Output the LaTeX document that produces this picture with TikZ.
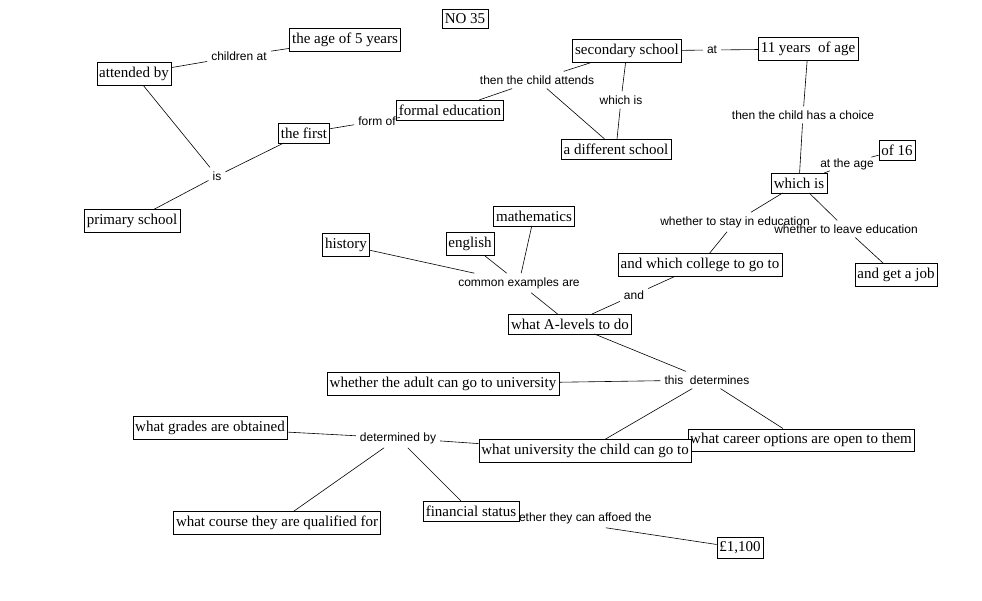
\documentclass[tikz,border=0pt]{standalone}
\usepackage{fontspec}
\setmainfont{Liberation Serif}
\newfontfamily\lblfont{Liberation Sans}
\usetikzlibrary{positioning}

\tikzset{
  box/.style={draw, fill=white, inner xsep=2.5pt, inner ysep=4.5pt, font=\fontsize{15}{17}\selectfont},
  lbl/.style={inner sep=4pt, font=\lblfont\fontsize{12}{14}\selectfont},
  link/.style={draw, line width=0.6pt}
}

\begin{document}
\begin{tikzpicture}[x=1pt, y=-1pt]
    \useasboundingbox (0,0) rectangle (982,601);

    %define the concepts
    \node[box] (title) at (465,19) {NO 35};
    \node[box] (ageFive) at (345,40) {the age of 5 years};
    \node[box] (attendedBy) at (134,74) {attended by};
    \node[box] (primary) at (132,221) {primary school};
    \node[box] (theFirst) at (304,133) {the first};
    \node[box] (formalEd) at (450,110) {formal education};
    \node[box] (secondary) at (627,51) {secondary school};
    \node[box] (differentSchool) at (616,149) {a different school};
    \node[box] (elevenYears) at (808,49) {11 years~ of age};
    \node[box] (ofSixteen) at (897,150) {of 16};
    \node[box] (whichIs) at (799,183) {which is};
    \node[box] (whichCollege) at (700,265) {and which college to go to};
    \node[box] (getJob) at (896,275) {and get a job};
    \node[box] (maths) at (534,216) {mathematics};
    \node[box] (english) at (470,244) {english};
    \node[box] (history) at (346,245) {history};
    \node[box] (aLevels) at (570,324) {what A-levels to do};
    \node[box] (adultUni) at (443,384) {whether the adult can go to university};
    \node[box] (careers) at (801,440) {what career options are open to them};
    \node[box] (childUni) at (585,451) {what university the child can go to};
    \node[box] (grades) at (210,428) {what grades are obtained};
    \node[box] (course) at (277,523) {what course they are qualified for};
    \node[lbl] (affordLbl) at (541,518) {which means whether they can affoed the};
    \node[box] (financial) at (471,511) {financial status};
    \node[box] (cost) at (740,548) {£1,100};

    %define the linking phrases
    \node[lbl] (childrenAt) at (239,56) {children at};
    \node[lbl] (isLbl) at (217,176) {is};
    \node[lbl] (formOf) at (377,121) {form of};
    \node[lbl] (childAttends) at (537,80) {then the child attends};
    \node[lbl] (whichIsLbl) at (621,100) {which is};
    \node[lbl] (atLbl) at (712,50) {at};
    \node[lbl] (hasChoice) at (803,115) {then the child has a choice};
    \node[lbl, inner sep=1pt] (atTheAge) at (847,164) {at the age};
    \node[lbl] (stayEd) at (735,222) {whether to stay in education};
    \node[lbl] (leaveEd) at (846,229) {whether to leave education};
    \node[lbl] (andLbl) at (634,295) {and};
    \node[lbl] (examples) at (519,283) {common examples are};
    \node[lbl] (determines) at (707,380) {this~ determines};
    \node[lbl] (determinedBy) at (398,438) {determined by};

    %define the links
    \path[link] (attendedBy) edge (childrenAt)
                (childrenAt) edge (ageFive)
                (attendedBy) edge (isLbl)
                (isLbl)      edge (primary)
                (isLbl)      edge (theFirst)
                (theFirst)   edge (formOf)
                (formOf)     edge (formalEd)
                (formalEd)   edge (childAttends)
                (childAttends) edge (secondary)
                (childAttends) edge (differentSchool)
                (secondary)  edge (whichIsLbl)
                (whichIsLbl) edge (differentSchool)
                (secondary)  edge (atLbl)
                (atLbl)      edge (elevenYears)
                (elevenYears) edge (hasChoice)
                (hasChoice)  edge (whichIs)
                (whichIs)    edge (atTheAge)
                (atTheAge)   edge (ofSixteen)
                (whichIs)    edge (stayEd)
                (stayEd)     edge (whichCollege)
                (whichIs)    edge (leaveEd)
                (leaveEd)    edge (getJob)
                (whichCollege) edge (andLbl)
                (andLbl)     edge (aLevels)
                (history)    edge (examples)
                (english)    edge (examples)
                (maths)      edge (examples)
                (examples)   edge (aLevels)
                (aLevels)    edge (determines)
                (determines) edge (adultUni)
                (determines) edge (childUni)
                (determines) edge (careers)
                (childUni)   edge (determinedBy)
                (determinedBy) edge (grades)
                (determinedBy) edge (course)
                (determinedBy) edge (financial)
                (affordLbl)  edge (cost);
\end{tikzpicture}
\end{document}
